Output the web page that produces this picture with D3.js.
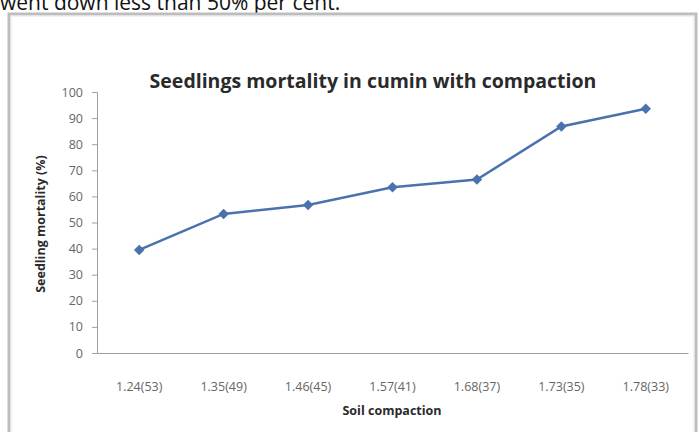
<!DOCTYPE html>
<html><head><meta charset="utf-8">
<script src="https://cdn.jsdelivr.net/npm/d3@7"></script>
<style>body{margin:0;background:#fff}svg{display:block}</style>
</head><body>
<svg id="c" width="699" height="432"></svg>
<script>
const categories = ["1.24(53)","1.35(49)","1.46(45)","1.57(41)","1.68(37)","1.73(35)","1.78(33)"];
const mortality = [39.5, 53.3, 56.7, 63.5, 66.5, 86.8, 93.6];
const yTicks = [0,10,20,30,40,50,60,70,80,90,100];
const titleText = "Seedlings mortality in cumin with compaction";
const xTitle = "Soil compaction";
const yTitle = "Seedling mortality (%)";
const captionText = "went down less than 50% per cent.";

const svg = d3.select("#c");
const font = "'Open Sans', sans-serif";

// page caption clipped at top
svg.append("text").attr("x", 0).attr("y", 10).attr("font-family","'Open Sans', sans-serif")
  .attr("font-size", 21).attr("fill","#111").text(captionText);

// chart frame with shadow
svg.append("rect").attr("x", 9).attr("y", 14).attr("width", 687).attr("height", 430)
  .attr("fill","none").attr("stroke","#bdbdbd").attr("stroke-width",3);
svg.append("rect").attr("x", 11).attr("y", 16).attr("width", 683).attr("height", 428)
  .attr("fill","#fff").attr("stroke","#e6e6e6").attr("stroke-width",1);

const x = d3.scaleBand().domain(categories).range([97, 688]);
const y = d3.scaleLinear().domain([0,100]).range([353, 92]);

// axes
const yAxis = svg.append("g").attr("transform","translate(97,0)")
  .call(d3.axisLeft(y).tickValues(yTicks).tickSize(5).tickPadding(9));
const xAxis = svg.append("g").attr("transform","translate(0,353)")
  .call(d3.axisBottom(x).tickSize(0).tickPadding(38));
[yAxis, xAxis].forEach(g => {
  g.select(".domain").attr("stroke","#a0a0a0");
  g.selectAll(".tick line").attr("stroke","#a0a0a0");
  g.selectAll(".tick text").attr("fill","#666").attr("font-family",font).attr("font-size",12.5);
});
xAxis.selectAll(".tick text").attr("dy", 0);

// line
const line = d3.line().x((d,i)=>x(categories[i])+x.bandwidth()/2).y(d=>y(d));
svg.append("path").datum(mortality).attr("d", line).attr("fill","none")
  .attr("stroke","#4a72ad").attr("stroke-width",2.5);
svg.selectAll(".pt").data(mortality).enter().append("path")
  .attr("transform",(d,i)=>`translate(${x(categories[i])+x.bandwidth()/2},${y(d)})`)
  .attr("d", d3.symbol(d3.symbolDiamond2, 70)).attr("fill","#4a72ad");

// titles
svg.append("text").attr("x", 373).attr("y", 88).attr("text-anchor","middle")
  .attr("font-family",font).attr("font-weight","bold").attr("font-size",19.5).attr("fill","#2a2a2a")
  .text(titleText);
svg.append("text").attr("x", 392).attr("y", 415).attr("text-anchor","middle")
  .attr("font-family",font).attr("font-weight","bold").attr("font-size",12.5).attr("fill","#2a2a2a")
  .text(xTitle);
svg.append("text").attr("transform","translate(45,224) rotate(-90)").attr("text-anchor","middle")
  .attr("font-family",font).attr("font-weight","bold").attr("font-size",12.5).attr("fill","#2a2a2a")
  .text(yTitle);
</script>
</body></html>
